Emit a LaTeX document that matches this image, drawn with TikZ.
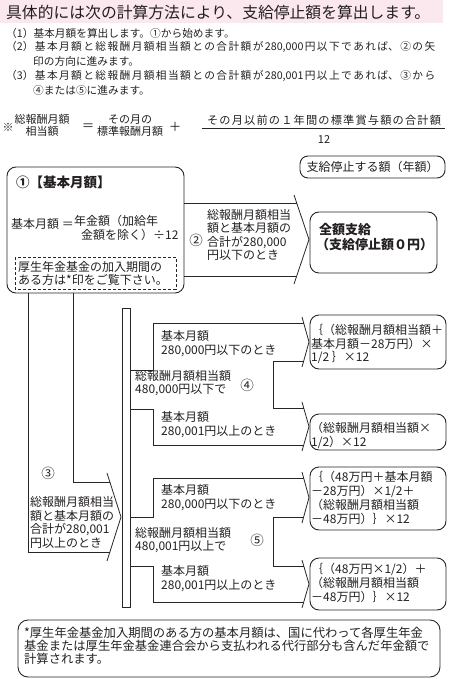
\documentclass[tikz,border=0pt]{standalone}
\usepackage{fontspec}
\setmainfont{Noto Sans CJK JP}
\definecolor{titlebg}{RGB}{251,232,238}
\definecolor{ink}{RGB}{35,31,32}
\newcommand\jline[2]{\parbox{#1}{\XeTeXlinebreaklocale "ja"\XeTeXlinebreakskip=0pt plus 1fil\relax\parfillskip=0pt\relax\noindent#2}}
\begin{document}
\begin{tikzpicture}[x=1bp,y=-1bp,
  t/.style={anchor=west, inner sep=0pt, align=left, text=ink, font=\fontsize{12bp}{13.4bp}\selectfont},
  li/.style={anchor=west, inner sep=0pt, text=ink, font=\fontsize{10.7bp}{14bp}\selectfont},
  fm/.style={inner sep=0pt, align=center, text=ink, font=\fontsize{11bp}{12bp}\selectfont},
  ln/.style={draw=black!85, line width=0.8bp},
  rbox/.style={draw=black!85, line width=0.9bp, rounded corners=9bp},
  cnum/.style={inner sep=0pt, text=ink, font=\fontsize{13.5bp}{14bp}\selectfont},
  res/.style={anchor=west, inner sep=0pt, align=left, text=ink, font=\fontsize{12bp}{13.8bp}\selectfont}]
\useasboundingbox (0,0) rectangle (450,679);

% title
\fill[titlebg] (0,0) rectangle (443,23);
\node[anchor=west, inner sep=0pt, text=ink, font=\fontsize{15.8bp}{17bp}\selectfont] (title) at (6,12) {具体的には次の計算方法により、支給停止額を算出します。};

% list
\node[li] (l1) at (6,33) {（1）基本月額を算出します。①から始めます。};
\node[li] (l2) at (6,47) {\jline{429bp}{（2）基本月額と総報酬月額相当額との合計額が280,000円以下であれば、②の矢}};
\node[li] (l2b) at (33,61) {印の方向に進みます。};
\node[li] (l3) at (6,76) {\jline{429bp}{（3）基本月額と総報酬月額相当額との合計額が280,001円以上であれば、③から}};
\node[li] (l3b) at (33,90.5) {④または⑤に進みます。};

% formula
\node[fm] (fk) at (8,127) {※};
\node[fm] (fa) at (42,125.5) {総報酬月額\\相当額};
\node[fm, font=\fontsize{12.5bp}{12bp}\selectfont] (feq) at (88,127) {＝};
\node[fm] (fb) at (130,125.5) {その月の\\標準報酬月額};
\node[fm, font=\fontsize{12.5bp}{12bp}\selectfont] (fp) at (175,127) {＋};
\node[fm, font=\fontsize{11.2bp}{12bp}\selectfont] (fn) at (324,120) {\jline{234bp}{その月以前の１年間の標準賞与額の合計額}};
\draw[ln] (202,128) -- (445,128);
\node[fm] (fd) at (324,139.5) {12};

% header box
\draw[rbox, rounded corners=8bp] (300,156) rectangle (445,178);
\node[fm, font=\fontsize{12bp}{12bp}\selectfont] (hdr) at (372.5,167) {支給停止する額（年額）};

% box 1
\draw[rbox] (7,167) rectangle (184,293);
\node[t, font=\bfseries\fontsize{13.5bp}{14bp}\selectfont] (b1t) at (16,182) {①【基本月額】};
\node[t] (b1a) at (11,224) {基本月額 ＝};
\node[t] (b1b) at (74,221) {年金額（加給年};
\node[t] (b1c) at (81,235) {金額を除く）÷12};
\draw[draw=black!85, line width=0.8bp, dash pattern=on 3bp off 2bp] (15,257) rectangle (176,289);
\node[t, font=\fontsize{12bp}{13bp}\selectfont] (b1d) at (18,273) {厚生年金基金の加入期間の\\ある方は*印をご覧下さい。};

% arrow 2
\draw[ln] (184,203) -- (297,203);
\draw[ln] (184,276) -- (297,276);
\draw[ln] (294,195) -- (309,239.5) -- (294,284);
\node[cnum] (n2) at (196,240) {②};
\node[t] (a2) at (207,235) {総報酬月額相当\\額と基本月額の\\合計が280,000\\円以下のとき};

% full payment box
\draw[rbox] (310,212) rectangle (437,273);
\node[t, font=\bfseries\fontsize{13bp}{15bp}\selectfont] (r2) at (316,237.5) {\ 全額支給\\（支給停止額０円）};

% arrow 3 and bar
\draw[ln] (28,293) -- (28,552) -- (110,552);
\draw[ln] (73,293) -- (73,482) -- (110,482);
\draw[ln] (107,473) -- (121,517) -- (107,561);
\node[cnum] (n3) at (48,473) {③};
\node[t] (a3) at (30,522.5) {総報酬月額相当\\額と基本月額の\\合計が280,001\\円以上のとき};
\draw[ln] (122,308) rectangle (130,607);

% group 4
\draw[ln] (130,370) -- (153,370) -- (153,323) -- (303.7,323);
\draw[ln] (302,317) -- (309,342) -- (302,367);
\draw[ln] (303.7,361) -- (273,361) -- (273,408) -- (303.7,408);
\draw[ln] (302,402) -- (309,426.5) -- (302,451);
\draw[ln] (130,409) -- (153,409) -- (153,445) -- (303.7,445);
\node[t] (c4a) at (161,343.5) {基本月額\\280,000円以下のとき};
\node[t] (c4m) at (135,383) {総報酬月額相当額\\480,000円以下で};
\node[cnum] (n4) at (247,385) {④};
\node[t] (c4b) at (161,424.5) {基本月額\\280,001円以上のとき};
\draw[rbox] (310,315) rectangle (446,369);
\node[res] (r4a) at (311,344) {｛（総報酬月額相当額＋\\基本月額－28万円）×\\1/2 ｝×12};
\draw[rbox] (310,414) rectangle (446,450);
\node[res] (r4b) at (311,435.5) {（総報酬月額相当額×\\1/2）×12};

% group 5
\draw[ln] (130,517) -- (153,517) -- (153,478) -- (303.7,478);
\draw[ln] (302,472) -- (309,497.5) -- (302,523);
\draw[ln] (303.7,517) -- (273,517) -- (273,566) -- (303.7,566);
\draw[ln] (302,560) -- (309,584) -- (302,608);
\draw[ln] (130,566) -- (153,566) -- (153,602) -- (303.7,602);
\node[t] (c5a) at (161,497.5) {基本月額\\280,000円以下のとき};
\node[t] (c5m) at (135,540) {総報酬月額相当額\\480,001円以上で};
\node[cnum] (n5) at (257,540) {⑤};
\node[t] (c5b) at (161,578.5) {基本月額\\280,001円以上のとき};
\draw[rbox] (310,467) rectangle (446,530);
\node[res] (r5a) at (311,498) {｛（48万円＋基本月額\\－28万円）×1/2＋\\（総報酬月額相当額\\－48万円）｝×12};
\draw[rbox] (310,558) rectangle (446,610);
\node[res] (r5b) at (311,583) {｛（48万円×1/2）＋\\（総報酬月額相当額\\－48万円）｝×12};

% note
\draw[rbox, rounded corners=10bp] (18,620) rectangle (440,677);
\node[t, font=\fontsize{12.3bp}{12.8bp}\selectfont] (note) at (24,646) {*厚生年金基金加入期間のある方の基本月額は、国に代わって各厚生年金\\基金または厚生年金基金連合会から支払われる代行部分も含んだ年金額で\\計算されます。};
\end{tikzpicture}
\end{document}
